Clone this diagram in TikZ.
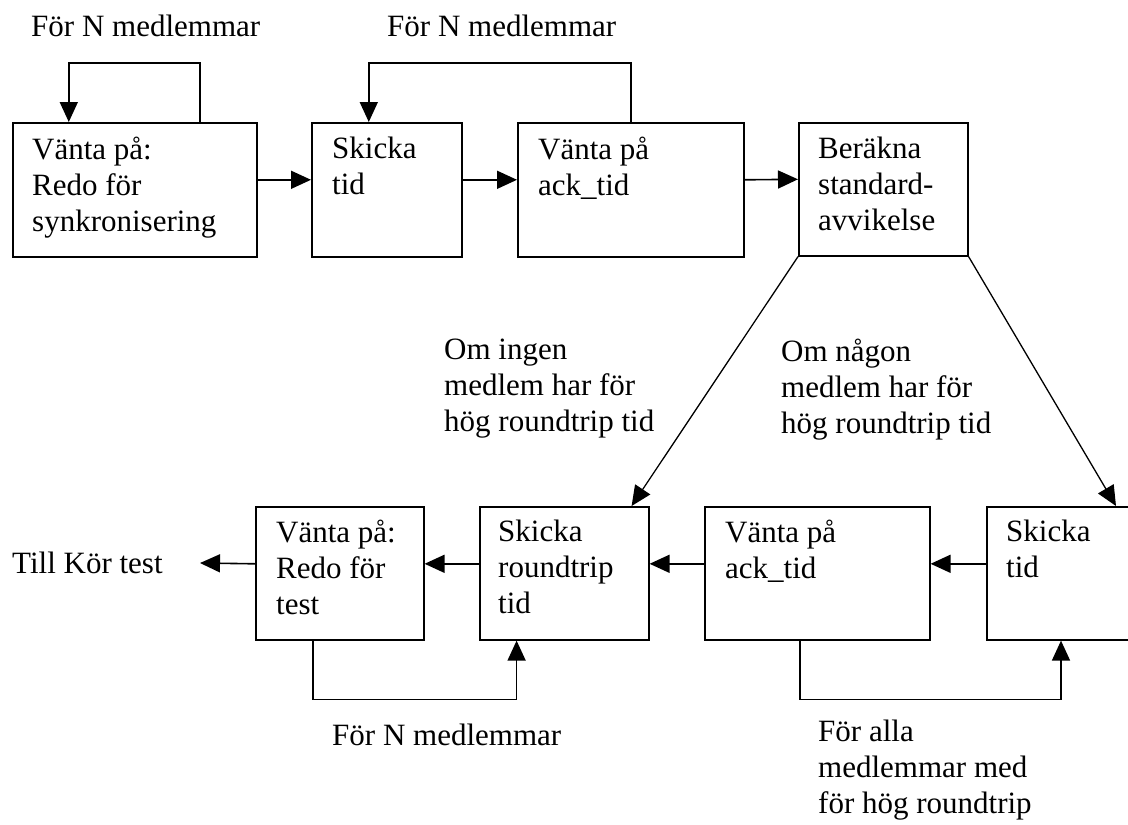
\documentclass[tikz,border=0pt]{standalone}
\usepackage{fontspec}
\setmainfont{Liberation Serif}
\usetikzlibrary{arrows.meta}

\begin{document}
\begin{tikzpicture}[x=1pt,y=-1pt,
  every node/.style={font=\fontsize{31}{36}\selectfont},
  state/.style={draw,line width=1.6pt,rectangle,anchor=north west,inner sep=0pt},
  % placed at the baseline of the first line
  txt/.style={anchor=north west,align=left,inner sep=0pt,yshift=25.2pt,
    execute at begin node=\strut},
  arr/.style={line width=1.6pt,-{Triangle[length=20pt,width=18pt]}}]

\useasboundingbox (0,0) rectangle (1128,825);
\clip (0,0) rectangle (1128,825);

% upper row of states
\node[state,minimum width=244pt,minimum height=134pt] (s1) at (12,122) {};
\node[state,minimum width=150pt,minimum height=134pt] (s2) at (311,122) {};
\node[state,minimum width=226pt,minimum height=134pt] (s3) at (517,122) {};
\node[state,minimum width=169pt,minimum height=133pt] (s4) at (798,122) {};

\node[txt] (s1t) at (32,162) {Vänta på:\\Redo för\\synkronisering};
\node[txt] (s2t) at (332,162) {Skicka\\tid};
\node[txt] (s3t) at (538,162) {Vänta på\\ack\_tid};
\node[txt] (s4t) at (818,162) {Beräkna\\standard-\\avvikelse};

% lower row of states (the last one runs past the right edge)
\node[state,minimum width=168pt,minimum height=133pt] (b1) at (255,506) {};
\node[state,minimum width=169pt,minimum height=133pt] (b2) at (479,506) {};
\node[state,minimum width=225pt,minimum height=133pt] (b3) at (704,506) {};
\node[state,minimum width=160pt,minimum height=133pt] (b4) at (986,506) {};

\node[txt] (b1t) at (276,545) {Vänta på:\\Redo för\\test};
\node[txt] (b2t) at (498,545) {Skicka\\roundtrip\\tid};
\node[txt] (b3t) at (725,545) {Vänta på\\ack\_tid};
\node[txt] (b4t) at (1006,545) {Skicka\\tid};

% labels
\node[txt] (lab1) at (31,36) {För N medlemmar};
\node[txt] (lab2) at (387,36) {För N medlemmar};
\node[txt] (labL) at (444,364) {Om ingen\\medlem har för\\hög roundtrip tid};
\node[txt] (labR) at (781,364) {Om någon\\medlem har för\\hög roundtrip tid};
\node[txt] (lab3) at (332,745) {För N medlemmar};
\node[txt] (lab4) at (818,745) {För alla\\medlemmar med\\för hög roundtrip};
\node[txt] (till) at (12,573) {Till Kör test};
\coordinate (tillend) at (200,563);

% upper row flow
\draw[arr] ([yshift=10pt]s1.east) -- ([yshift=10pt]s2.west);
\draw[arr] ([yshift=10pt]s2.east) -- ([yshift=10pt]s3.west);
\draw[arr] ([yshift=10pt]s3.east) -- ([yshift=10pt]s4.west);

% loops above the upper row
\draw[arr] ([xshift=65pt]s1.north) -- ++(0,-59) -| ([xshift=-66pt]s1.north);
\draw[arr] (s3.north) -- ++(0,-59) -| ([xshift=-18pt]s2.north);

% branches from the calculation
\draw[arr,line width=1.3pt] (s4.south west) -- ([xshift=-18pt]b2.north east);
\draw[arr,line width=1.3pt] (s4.south east) -- ([xshift=130pt]b4.north west);

% lower row flow, right to left
\draw[arr] ([yshift=9.5pt]b4.west) -- ([yshift=9.5pt]b3.east);
\draw[arr] ([yshift=9.5pt]b3.west) -- ([yshift=9.5pt]b2.east);
\draw[arr] ([yshift=9.5pt]b2.west) -- ([yshift=9.5pt]b1.east);
\draw[arr] ([yshift=9.5pt]b1.west) -- (tillend);

% loops below the lower row
\draw[arr] ([xshift=-27pt]b1.south) -- ++(0,59) -| ([xshift=92pt]b1.south east);
\draw[arr] ([xshift=-17.5pt]b3.south) -- ++(0,59) -| ([xshift=75pt]b4.south west);

\end{tikzpicture}
\end{document}
